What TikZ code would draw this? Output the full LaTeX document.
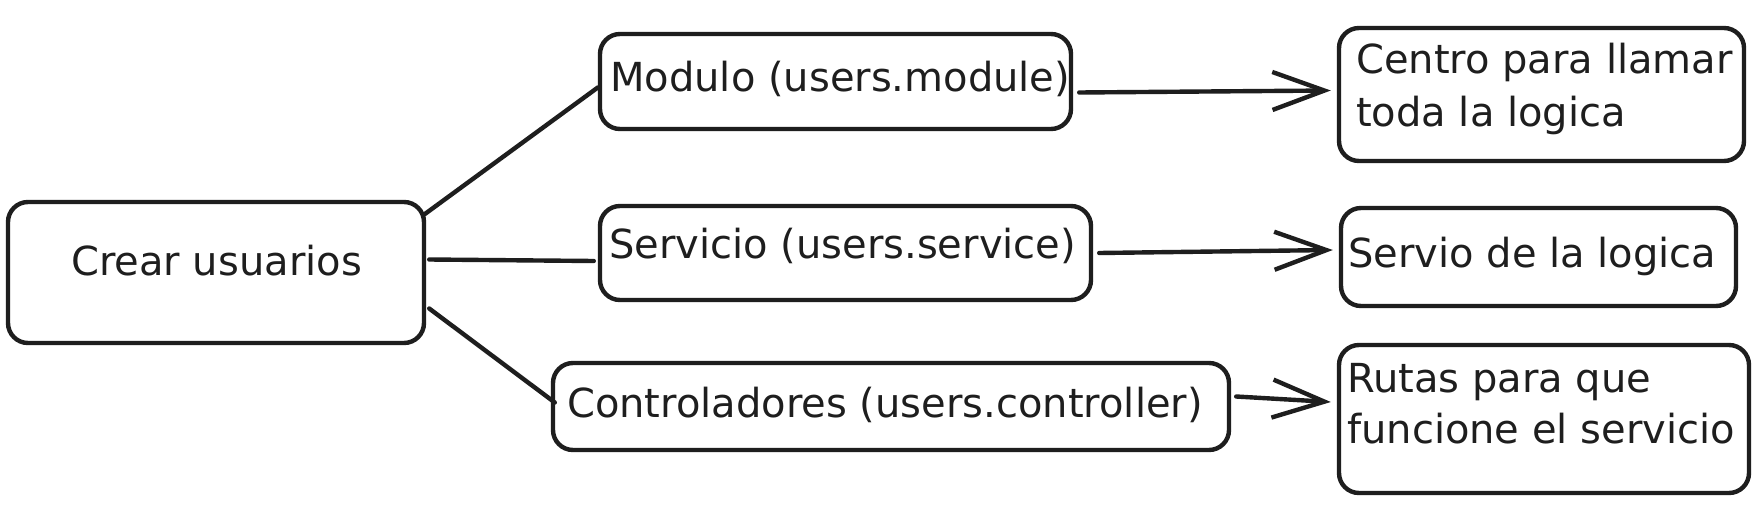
\documentclass[tikz,border=0pt]{standalone}
\usepackage{fontspec}
\setmainfont{DejaVu Sans}
\usetikzlibrary{arrows.meta,calc}
\definecolor{ink}{HTML}{1E1E1E}
\begin{document}
\begin{tikzpicture}[x=1pt,y=-1pt,
  boxnode/.style={draw=ink,line width=4.4pt,rounded corners=20pt,inner sep=0pt},
  txt/.style={text=ink,font=\fontsize{40}{52}\selectfont,inner sep=0pt,anchor=base west},
  link/.style={draw=ink,line width=4.4pt,line cap=round},
  arr/.style={link,-{Straight Barb[length=52pt,width=38pt,line width=4.4pt]}}]
\useasboundingbox (0,0) rectangle (1762,522);
\fill[white] (0,0) rectangle (1762,522);

% boxes
\node[boxnode,minimum width=416pt,minimum height=141pt] (crear) at (216,272.5) {};
\node[boxnode,minimum width=471pt,minimum height=95pt] (modulo) at (835.5,81.5) {};
\node[boxnode,minimum width=491pt,minimum height=94pt] (servicio) at (845.5,253) {};
\node[boxnode,minimum width=676pt,minimum height=87pt] (control) at (891,406.5) {};
\node[boxnode,minimum width=405pt,minimum height=133pt] (centro) at (1541.5,94.5) {};
\node[boxnode,minimum width=395pt,minimum height=98pt] (servio) at (1538.5,257) {};
\node[boxnode,minimum width=410pt,minimum height=148pt] (rutas) at (1544,419) {};

% texts
\node[txt] (tcrear) at (71,275) {Crear usuarios};
\node[txt] (tmodulo) at (610,91) {Modulo (users.module)};
\node[txt] (tservicio) at (609,258) {Servicio (users.service)};
\node[txt] (tcontrol) at (567,417) {Controladores (users.controller)};
\node[txt] (tcentro1) at (1356,73) {Centro para llamar};
\node[txt] (tcentro2) at (1356,126) {toda la logica};
\node[txt] (tservio) at (1348,267) {Servio de la logica};
\node[txt] (trutas1) at (1347,392) {Rutas para que};
\node[txt] (trutas2) at (1347,443) {funcione el servicio};

% connectors
\draw[link] ($(crear.east)+(-2,-58)$) -- ($(modulo.west)+(0,6)$);
\draw[link] ($(crear.east)+(3,-13)$) -- ($(servicio.west)+(-4,8)$);
\draw[link] ($(crear.east)+(3,36)$) -- ($(control.west)+(4,-4)$);

\draw[arr] ($(modulo.east)+(6,11)$) -- ($(centro.west)+(-6,-4)$);
\draw[arr] ($(servicio.east)+(6,0)$) -- ($(servio.west)+(-6,-7)$);
\draw[arr] ($(control.east)+(5,-10)$) -- ($(rutas.west)+(-6,-17)$);
\end{tikzpicture}
\end{document}
